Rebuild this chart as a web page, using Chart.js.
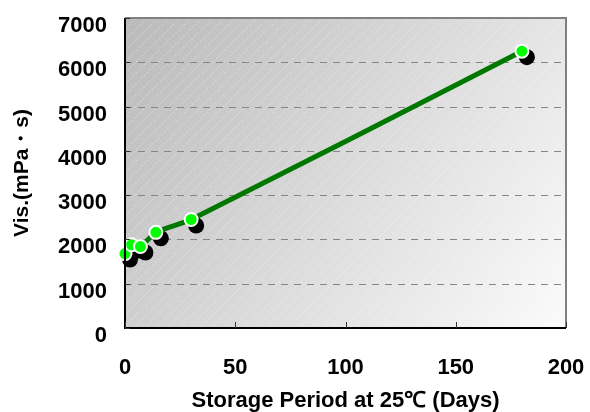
<!DOCTYPE html>
<html>
<head>
<meta charset="utf-8">
<script src="https://cdn.jsdelivr.net/npm/chart.js@4.4.1/dist/chart.umd.min.js"></script>
<style>
  html, body { margin: 0; padding: 0; background: #fff; }
  #wrap { width: 590px; height: 412px; position: relative; }
</style>
</head>
<body>
<div id="wrap"><canvas id="visChart"></canvas></div>
<script>
// storage days and viscosity readings
const days = [0, 3, 7, 14, 30, 180];
const viscosity = [1680, 1880, 1840, 2160, 2450, 6250];
const xTicks = [0, 50, 100, 150, 200];
const yTicks = [0, 1000, 2000, 3000, 4000, 5000, 6000, 7000];

const points = days.map((d, i) => ({ x: d, y: viscosity[i] }));

// gray gradient + faint diagonal hatch behind the plot, borders and inner tick marks
const plotDecor = {
    id: 'plotDecor',
    beforeDatasetsDraw(chart) {
        const { ctx, chartArea: a } = chart;
        ctx.save();
        const g = ctx.createLinearGradient(a.left, a.top, a.right, a.bottom);
        g.addColorStop(0, '#bababa');
        g.addColorStop(1, '#fbfbfb');
        ctx.fillStyle = g;
        ctx.fillRect(a.left, a.top, a.right - a.left, a.bottom - a.top);

        ctx.beginPath();
        ctx.rect(a.left, a.top, a.right - a.left, a.bottom - a.top);
        ctx.clip();
        ctx.strokeStyle = 'rgba(255,255,255,0.4)';
        ctx.lineWidth = 1;
        ctx.setLineDash([2, 2]);
        const h = a.bottom - a.top;
        for (let s = a.left - h; s < a.right; s += 11) {
            ctx.beginPath();
            ctx.moveTo(s, a.bottom);
            ctx.lineTo(s + h, a.top);
            ctx.stroke();
        }
        ctx.setLineDash([]);
        ctx.restore();

        // dashed horizontal grid
        const ys = chart.scales.y;
        ctx.save();
        ctx.strokeStyle = '#858585';
        ctx.lineWidth = 1;
        ctx.setLineDash([7, 6]);
        yTicks.slice(1, -1).forEach(v => {
            const py = Math.round(ys.getPixelForValue(v)) + 0.5;
            ctx.beginPath();
            ctx.moveTo(a.left, py);
            ctx.lineTo(a.right, py);
            ctx.stroke();
        });
        ctx.restore();
    },
    afterDatasetsDraw(chart) {
        const { ctx, chartArea: a } = chart;
        const xs = chart.scales.x, ys = chart.scales.y;
        ctx.save();
        // top & right frame
        ctx.strokeStyle = '#808080';
        ctx.lineWidth = 2;
        ctx.beginPath();
        ctx.moveTo(a.left, a.top);
        ctx.lineTo(a.right, a.top);
        ctx.lineTo(a.right, a.bottom);
        ctx.stroke();
        // left & bottom axis
        ctx.strokeStyle = '#000';
        ctx.beginPath();
        ctx.moveTo(a.left, a.top);
        ctx.lineTo(a.left, a.bottom);
        ctx.lineTo(a.right, a.bottom);
        ctx.stroke();
        // inner tick marks
        ctx.lineWidth = 1;
        ctx.strokeStyle = '#333';
        yTicks.forEach(v => {
            const py = Math.round(ys.getPixelForValue(v)) + 0.5;
            ctx.beginPath();
            ctx.moveTo(a.left, py);
            ctx.lineTo(a.left + 5, py);
            ctx.stroke();
        });
        xTicks.forEach(v => {
            const px = Math.round(xs.getPixelForValue(v)) + 0.5;
            ctx.beginPath();
            ctx.moveTo(px, a.bottom);
            ctx.lineTo(px, a.bottom - 6);
            ctx.stroke();
        });
        ctx.restore();
    },
    beforeDatasetDraw(chart, args) {
        if (args.index === 1) {
            chart.ctx.save();
            chart.ctx.translate(5, 6);
        }
    },
    afterDatasetDraw(chart, args) {
        if (args.index === 1) chart.ctx.restore();
    }
};

const ctx = document.getElementById('visChart').getContext('2d');
const visChart = new Chart(ctx, {
    type: 'line',
    data: {
        datasets: [{
            label: 'Vis.',
            data: points,
            borderColor: '#007800',
            borderWidth: 5,
            tension: 0.25,
            pointRadius: 6.5,
            pointBackgroundColor: '#00ff00',
            pointBorderColor: '#ffffff',
            pointBorderWidth: 2,
            order: 1
        }, {
            label: 'shadow',
            data: points,
            showLine: false,
            pointRadius: 8,
            pointBackgroundColor: '#000',
            pointBorderWidth: 0,
            order: 2
        }]
    },
    options: {
        responsive: true,
        maintainAspectRatio: false,
        animation: false,
        events: [],
        clip: false,
        layout: { padding: { top: 18, right: 24, left: 0, bottom: 0 } },
        plugins: {
            legend: { display: false },
            tooltip: { enabled: false }
        },
        scales: {
            x: {
                type: 'linear',
                min: 0,
                max: 200,
                border: { display: false },
                grid: { display: false, drawTicks: false },
                afterBuildTicks: s => { s.ticks = xTicks.map(v => ({ value: v })); },
                afterFit: s => { s.height = 84; s.paddingLeft = 0; s.paddingRight = 0; },
                ticks: {
                    padding: 27,
                    color: '#000',
                    font: { family: 'Liberation Sans', size: 22, weight: 'bold' },
                    callback: v => String(v)
                },
                title: {
                    display: true,
                    text: 'Storage Period at 25℃ (Days)',
                    color: '#000',
                    padding: { top: 0, bottom: 0 },
                    font: { family: 'Liberation Sans', size: 22, weight: 'bold', lineHeight: 1 }
                }
            },
            y: {
                type: 'linear',
                min: 0,
                max: 7000,
                border: { display: false },
                grid: { display: false, drawTicks: false },
                afterBuildTicks: s => { s.ticks = yTicks.map(v => ({ value: v })); },
                afterFit: s => { s.width = 125; s.paddingTop = 0; s.paddingBottom = 0; },
                ticks: {
                    padding: 18,
                    labelOffset: 8,
                    color: '#000',
                    font: { family: 'Liberation Sans', size: 22, weight: 'bold' },
                    callback: v => String(v)
                },
                title: {
                    display: true,
                    text: 'Vis.(mPa・s)',
                    color: '#000',
                    padding: { top: 10, bottom: 0 },
                    font: { family: 'Liberation Sans', size: 21, weight: 'bold' }
                }
            }
        }
    },
    plugins: [plotDecor]
});
</script>
</body>
</html>
